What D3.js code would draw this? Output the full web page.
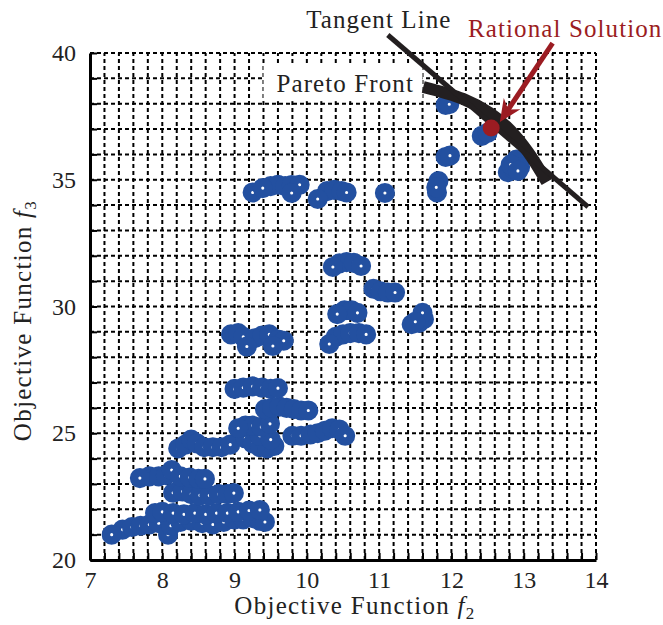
<!DOCTYPE html>
<html>
<head>
<meta charset="utf-8">
<script src="https://cdn.jsdelivr.net/npm/d3@7"></script>
<style>
body { margin: 0; background: #fff; }
svg text { font-family: "Liberation Serif", serif; }
</style>
</head>
<body>
<script>
// data (f2, f3)
var solutions = [
  // bottom band
  [7.45,21.2],[7.58,21.3],[7.7,21.35],[7.82,21.4],[7.95,21.45],[8.08,21.0],[8.12,21.35],[8.25,21.5],
  [8.4,21.55],[8.55,21.45],[8.7,21.4],[8.85,21.5],[9.0,21.6],[9.12,21.6],[9.25,21.65],[9.35,21.55],
  [7.9,21.85],[8.0,21.9],[8.15,21.85],[8.3,21.8],[8.45,21.85],[8.6,21.8],[8.75,21.85],[8.9,21.85],
  [9.05,21.9],[9.2,21.95],[7.3,21.0],[9.42,21.5],[9.35,21.97],
  [8.15,22.65],[8.28,22.7],[8.4,22.6],[8.52,22.55],[8.65,22.55],[8.78,22.6],[8.9,22.6],[8.99,22.64],
  [7.82,23.3],[7.95,23.3],[8.05,23.35],[8.13,23.55],[8.25,23.3],[8.38,23.25],[8.5,23.2],[7.69,23.23],[8.59,23.2],
  // around 24-27
  [8.22,24.4],[8.32,24.55],[8.4,24.75],[8.48,24.6],[8.58,24.45],[8.7,24.45],[8.82,24.45],[8.94,24.55],
  [9.15,24.8],[9.25,24.6],[9.35,24.45],[9.45,24.4],[9.55,24.5],[9.35,24.9],[9.5,24.75],
  [9.15,25.3],[9.25,25.3],[9.37,25.25],[9.05,25.2],[9.49,25.37],
  [9.8,24.9],[9.92,24.9],[10.05,24.95],[10.15,25.0],[10.25,25.1],[10.35,25.2],[10.45,25.15],[10.53,24.9],
  [9.42,25.95],[9.52,26.0],[9.62,26.05],[9.72,26.0],[9.82,25.95],[9.92,25.9],[10.02,25.9],
  [9.0,26.75],[9.12,26.8],[9.25,26.85],[9.38,26.8],[9.5,26.75],[9.6,26.78],
  // around 28-32
  [8.95,28.9],[9.05,28.95],[9.12,28.8],[9.28,28.75],[9.38,28.85],[9.48,28.9],[9.6,28.7],[9.68,28.65],
  [9.17,28.42],[9.53,28.44],
  [10.4,28.8],[10.5,28.9],[10.6,28.95],[10.72,28.95],[10.82,28.9],[10.31,28.52],
  [10.52,29.85],[10.62,29.85],[10.7,29.75],[10.42,29.7],
  [10.92,30.7],[11.02,30.6],[11.12,30.55],[11.22,30.55],
  [10.45,31.7],[10.55,31.75],[10.65,31.72],[10.75,31.6],[10.36,31.56],
  [11.45,29.3],[11.55,29.35],[11.62,29.5],[11.6,29.75],[11.5,29.4],
  // around 34.5
  [9.5,34.75],[9.6,34.8],[9.7,34.75],[9.79,34.79],[9.9,34.8],[9.25,34.5],[9.39,34.67],[9.79,34.48],
  [10.28,34.55],[10.38,34.6],[10.48,34.55],[10.55,34.5],[10.15,34.24],[11.08,34.48],
  // upper right
  [11.8,34.5],[11.82,34.95],[11.79,34.7],
  [11.92,35.9],[11.98,35.95],
  [11.92,37.95],[11.97,37.98],
  [12.42,36.73],[12.5,36.85],
  [12.78,35.3],[12.85,35.45],[12.9,35.8],[12.95,35.5],[12.82,35.6],[12.92,35.35]
];

var paretoF2 = [11.61, 12.16, 12.53, 12.81, 13.06, 13.32];
var paretoF3 = [38.66, 38.19, 37.63, 36.96, 36.09, 34.91];
var tangentF2 = [11.12, 13.89];
var tangentF3 = [40.71, 33.93];
var rationalPoint = [12.55, 37.04];
var arrowFrom = [13.40, 40.39];
var arrowTo = [12.67, 37.28];

var xTickLabels = [7, 8, 9, 10, 11, 12, 13, 14];
var yTickLabels = [20, 25, 30, 35, 40];

var width = 663, height = 625;
var margin = {top: 53, right: 67, bottom: 65, left: 90};
var serif = "Liberation Serif";

var x = d3.scaleLinear().domain([7, 14]).range([margin.left, width - margin.right]);
var y = d3.scaleLinear().domain([20, 40]).range([height - margin.bottom, margin.top]);

var svg = d3.select("body").append("svg")
  .attr("width", width)
  .attr("height", height);

var xMinor = d3.range(0, 36).map(function(i) { return +(7 + i * 0.2).toFixed(1); });
var yMinor = d3.range(20, 41);

//grid
svg.append("g").selectAll("line")
  .data(xMinor.slice(1))
  .enter().append("line")
  .attr("x1", function(d) { return x(d); })
  .attr("x2", function(d) { return x(d); })
  .attr("y1", y(20)).attr("y2", y(40))
  .attr("stroke", "#000").attr("stroke-width", 2)
  .attr("stroke-dasharray", "4,3");

svg.append("g").selectAll("line")
  .data(yMinor.slice(1))
  .enter().append("line")
  .attr("x1", x(7)).attr("x2", x(14))
  .attr("y1", function(d) { return y(d); })
  .attr("y2", function(d) { return y(d); })
  .attr("stroke", "#000").attr("stroke-width", 2)
  .attr("stroke-dasharray", "4,3");

//axes
var xAxis = d3.axisBottom(x)
  .tickValues(xMinor)
  .tickSize(-7).tickSizeOuter(0).tickPadding(11)
  .tickFormat(function(d) { return xTickLabels.indexOf(d) >= 0 ? d : ""; });

var yAxis = d3.axisLeft(y)
  .tickValues(yMinor)
  .tickSize(-7).tickSizeOuter(0).tickPadding(14)
  .tickFormat(function(d) { return yTickLabels.indexOf(d) >= 0 ? d : ""; });

var gx = svg.append("g")
  .attr("transform", "translate(0," + y(20) + ")")
  .call(xAxis);
var gy = svg.append("g")
  .attr("transform", "translate(" + x(7) + ",0)")
  .call(yAxis);

[gx, gy].forEach(function(g) {
  g.attr("font-family", serif);
  g.select(".domain").attr("stroke", "#000").attr("stroke-width", 3);
  g.selectAll(".tick line").attr("stroke", "#000").attr("stroke-width", 2);
  g.selectAll(".tick text")
    .attr("font-family", serif)
    .attr("font-size", 24).attr("fill", "#222");
});

//axis titles
var xt = svg.append("text")
  .attr("x", (x(7) + x(14)) / 2 + 12).attr("y", 614)
  .attr("text-anchor", "middle")
  .attr("font-family", serif)
  .attr("font-size", 25).attr("letter-spacing", 1.3).attr("fill", "#222")
  .text("Objective Function ");
xt.append("tspan").attr("font-style", "italic").text("f");
xt.append("tspan").attr("font-size", 17).attr("dy", 5).text("2");

var yt = svg.append("text")
  .attr("transform", "translate(31," + (y(30) + 14) + ") rotate(-90)")
  .attr("text-anchor", "middle")
  .attr("font-family", serif)
  .attr("font-size", 25).attr("letter-spacing", 1.3).attr("fill", "#222")
  .text("Objective Function ");
yt.append("tspan").attr("font-style", "italic").text("f");
yt.append("tspan").attr("font-size", 17).attr("dy", 5).text("3");

//pareto front label box
svg.append("rect")
  .attr("x", x(9.4)).attr("y", y(39.6))
  .attr("width", x(11.6) - x(9.4)).attr("height", y(38.1) - y(39.6))
  .attr("fill", "#fff");
svg.append("text")
  .attr("x", x(9.58)).attr("y", y(38.45))
  .attr("font-family", serif)
  .attr("font-size", 25).attr("letter-spacing", 1.1).attr("fill", "#222")
  .text("Pareto Front");

//solutions
svg.append("g").selectAll("circle")
  .data(solutions)
  .enter().append("circle")
  .attr("cx", function(d) { return x(d[0]); })
  .attr("cy", function(d) { return y(d[1]); })
  .attr("r", 5.8)
  .attr("fill", "#fff")
  .attr("stroke", "#2350a0")
  .attr("stroke-width", 8.5);

//pareto front
var pareto = paretoF2.map(function(d, i) { return [d, paretoF3[i]]; });
svg.append("path")
  .datum(pareto)
  .attr("d", d3.line().x(function(d) { return x(d[0]); }).y(function(d) { return y(d[1]); }).curve(d3.curveCatmullRom))
  .attr("fill", "none").attr("stroke", "#231f20")
  .attr("stroke-width", 12);

//tangent line
svg.append("line")
  .attr("x1", x(tangentF2[0])).attr("y1", y(tangentF3[0]))
  .attr("x2", x(tangentF2[1])).attr("y2", y(tangentF3[1]))
  .attr("stroke", "#231f20").attr("stroke-width", 5);

svg.append("circle")
  .attr("cx", x(rationalPoint[0])).attr("cy", y(rationalPoint[1]))
  .attr("r", 8.5).attr("fill", "#9b1c22");

//arrow
var ax0 = x(arrowFrom[0]), ay0 = y(arrowFrom[1]), ax1 = x(arrowTo[0]), ay1 = y(arrowTo[1]);
var ang = Math.atan2(ay1 - ay0, ax1 - ax0);
var hl = 22, hw = 10;
function pt(l, w) {
  return [ax1 - l * Math.cos(ang) - w * Math.sin(ang), ay1 - l * Math.sin(ang) + w * Math.cos(ang)];
}
svg.append("line")
  .attr("x1", ax0).attr("y1", ay0)
  .attr("x2", pt(14, 0)[0]).attr("y2", pt(14, 0)[1])
  .attr("stroke", "#9b1c22").attr("stroke-width", 5);
svg.append("path")
  .attr("d", "M" + [ax1, ay1] + "L" + pt(hl, hw) + "L" + pt(15, 0) + "L" + pt(hl, -hw) + "Z")
  .attr("fill", "#9b1c22");

//annotations
svg.append("text")
  .attr("x", x(9.99)).attr("y", 28)
  .attr("font-family", serif)
  .attr("font-size", 25).attr("letter-spacing", 1.1).attr("fill", "#222")
  .text("Tangent Line");
svg.append("text")
  .attr("x", x(12.23)).attr("y", 37)
  .attr("font-family", serif)
  .attr("font-size", 25).attr("letter-spacing", 1.1).attr("fill", "#9b1c22")
  .text("Rational Solution");
</script>
</body>
</html>
